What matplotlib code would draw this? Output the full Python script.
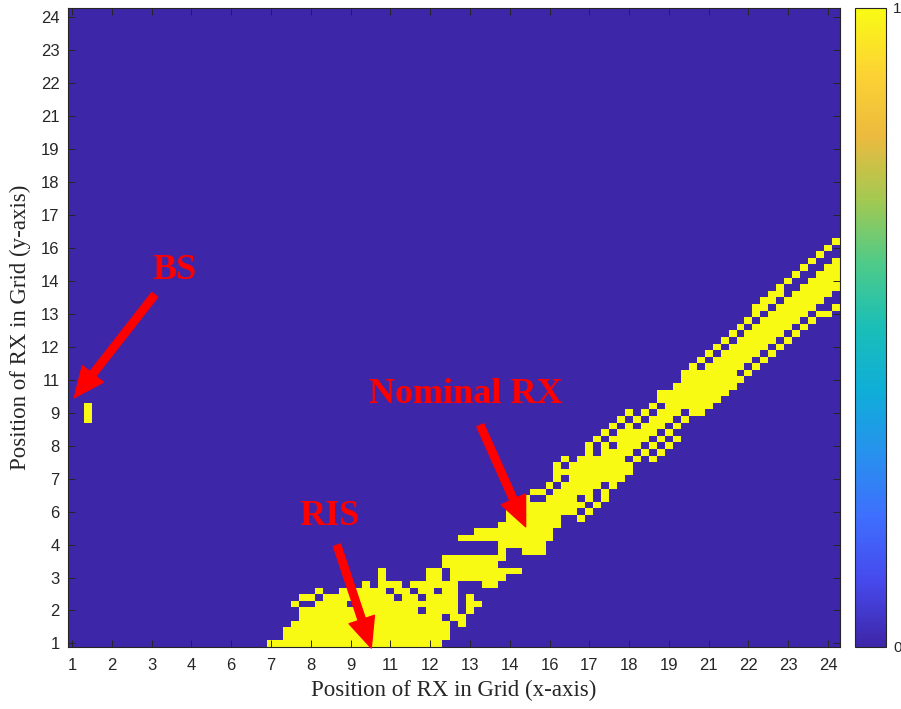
import numpy as np
import matplotlib
matplotlib.use("Agg")
import matplotlib.pyplot as plt
from matplotlib.colors import LinearSegmentedColormap

# ---------------- data ----------------
n_cells = 97
tick_index = [1, 6, 11, 16, 21, 26, 31, 36, 41, 46, 51, 56, 61, 66, 71, 76, 81, 86, 91, 96]
tick_labels = ['1', '2', '3', '4', '6', '7', '8', '9', '11', '12', '13', '14',
               '16', '17', '18', '19', '21', '22', '23', '24']

# yellow (value 1) cells: (row, first column, last column), 1-based grid indices
bs_runs = [(35, 3, 3), (36, 3, 3), (37, 3, 3)]

ris_runs = [
    (1, 26, 47),
    (2, 28, 48),
    (3, 28, 48),
    (4, 29, 48), (4, 50, 50),
    (5, 30, 47), (5, 49, 50),
    (6, 30, 44), (6, 46, 49), (6, 51, 51),
    (7, 29, 29), (7, 32, 35), (7, 37, 49), (7, 51, 52),
    (8, 30, 31), (8, 33, 41), (8, 43, 44), (8, 46, 49), (8, 51, 51),
    (9, 32, 32), (9, 35, 40), (9, 42, 43), (9, 45, 46), (9, 48, 49),
    (10, 38, 38), (10, 40, 42), (10, 44, 49), (10, 53, 54),
    (11, 40, 40), (11, 46, 47), (11, 49, 55),
    (12, 40, 40), (12, 46, 47), (12, 49, 57),
    (13, 48, 54),
    (14, 48, 55),
    (15, 55, 55), (15, 58, 60),
    (16, 55, 60),
]

band_runs = [
    (17, 50, 61),
    (18, 52, 61),
    (19, 55, 62),
    (20, 56, 62), (20, 65, 65),
    (21, 56, 64), (21, 66, 66),
    (22, 56, 56), (22, 58, 65), (22, 67, 67),
    (23, 58, 58), (23, 61, 64), (23, 66, 66), (23, 68, 68),
    (24, 59, 60), (24, 62, 66), (24, 68, 68),
    (25, 61, 61), (25, 63, 67), (25, 69, 69),
    (26, 62, 62), (26, 64, 70),
    (27, 62, 71),
    (28, 62, 62), (28, 64, 71),
    (29, 63, 63), (29, 65, 70), (29, 72, 72), (29, 74, 74),
    (30, 66, 66), (30, 68, 71), (30, 73, 73), (30, 75, 75),
    (31, 66, 66), (31, 68, 68), (31, 70, 72), (31, 74, 74), (31, 76, 76),
    (32, 67, 67), (32, 69, 73), (32, 75, 75), (32, 77, 77),
    (33, 68, 68), (33, 70, 74), (33, 76, 76),
    (34, 69, 69), (34, 71, 71), (34, 73, 75), (34, 77, 77),
    (35, 70, 70), (35, 72, 72), (35, 74, 76), (35, 78, 78),
    (36, 71, 71), (36, 73, 73), (36, 75, 77), (36, 79, 80),
    (37, 74, 74), (37, 76, 81),
    (38, 75, 82),
    (39, 75, 83),
    (40, 77, 84),
    (41, 78, 85),
    (42, 78, 84), (42, 86, 86),
    (43, 79, 79), (43, 81, 85), (43, 87, 87),
    (44, 80, 80), (44, 82, 86), (44, 88, 88),
    (45, 81, 81), (45, 83, 87), (45, 89, 89),
    (46, 82, 82), (46, 84, 88), (46, 90, 90),
    (47, 83, 83), (47, 85, 89), (47, 91, 91),
    (48, 84, 84), (48, 86, 90), (48, 92, 92),
    (49, 85, 85), (49, 87, 91), (49, 93, 93),
    (50, 86, 86), (50, 88, 92), (50, 94, 94),
    (51, 87, 87), (51, 89, 93), (51, 95, 96),
    (52, 87, 88), (52, 90, 94), (52, 97, 97),
    (53, 88, 89), (53, 91, 95),
    (54, 89, 90), (54, 92, 96),
    (55, 90, 90), (55, 93, 97),
    (56, 91, 91), (56, 94, 97),
    (57, 92, 92), (57, 95, 97),
    (58, 93, 93), (58, 96, 97),
    (59, 94, 94), (59, 97, 97),
    (60, 95, 95),
    (61, 96, 96),
    (62, 97, 97),
]

# ---------------- build grid ----------------
grid = np.zeros((n_cells, n_cells))
for r, c0, c1 in bs_runs + ris_runs + band_runs:
    grid[r - 1, c0 - 1:c1] = 1.0

parula = LinearSegmentedColormap.from_list('parula', [
    (0.00, (0.2422, 0.1504, 0.6603)),
    (0.10, (0.2760, 0.2860, 0.9260)),
    (0.20, (0.2450, 0.4300, 0.9960)),
    (0.30, (0.1540, 0.5680, 0.9320)),
    (0.40, (0.0590, 0.6810, 0.8480)),
    (0.50, (0.1000, 0.7480, 0.7180)),
    (0.60, (0.3050, 0.7950, 0.5360)),
    (0.70, (0.6400, 0.7880, 0.3180)),
    (0.80, (0.9250, 0.7300, 0.2450)),
    (0.90, (0.9900, 0.8300, 0.2000)),
    (1.00, (0.9769, 0.9839, 0.0805)),
])

W, H = 901, 709
fig = plt.figure(figsize=(W / 100, H / 100), dpi=100)
ax = fig.add_axes([68 / W, 1 - 646.7 / H, (840 - 68) / W, (646.7 - 7.5) / H])
im = ax.imshow(grid, origin='lower', cmap=parula, vmin=0, vmax=1,
               extent=(0.5, n_cells + 0.5, 0.5, n_cells + 0.5),
               aspect='auto', interpolation='nearest')

tick_font = dict(family='Liberation Sans', size=12)
ax.set_xticks(tick_index)
ax.set_xticklabels(tick_labels, **tick_font)
ax.set_yticks(tick_index)
ax.set_yticklabels(tick_labels, **tick_font)
ax.tick_params(direction='in', length=5, width=0.7, colors='#262626',
               top=True, right=True)
ax.tick_params(axis='x', pad=8)
ax.tick_params(axis='y', pad=6)
for s in ax.spines.values():
    s.set_color('#262626')
    s.set_linewidth(0.8)

label_font = dict(family='Liberation Serif', size=16.5, color='#262626')
ax.set_xlabel('Position of RX in Grid (x-axis)', labelpad=5, **label_font)
ax.set_ylabel('Position of RX in Grid (y-axis)', labelpad=7, **label_font)

# annotations
ann_font = dict(family='Liberation Serif', size=26, weight='bold', color='#ff0000')
arrow = dict(arrowstyle='simple,tail_width=0.45,head_width=1.6,head_length=1.8',
             color='#ff0000', mutation_scale=12, shrinkA=0, shrinkB=0)
ax.text(13.9, 57.6, 'BS', ha='center', va='center', **ann_font)
ax.annotate('', xy=(1.3, 38.3), xytext=(11.4, 53.9), arrowprops=arrow,
            annotation_clip=False)
ax.text(50.5, 38.7, 'Nominal RX', ha='center', va='center', **ann_font)
ax.annotate('', xy=(58.0, 18.7), xytext=(52.3, 34.1), arrowprops=arrow,
            annotation_clip=False)
ax.text(33.3, 20.2, 'RIS', ha='center', va='center', **ann_font)
ax.annotate('', xy=(38.6, 0.3), xytext=(34.3, 15.9), arrowprops=arrow,
            annotation_clip=False)

# colorbar
cax = fig.add_axes([855 / W, 1 - 646.7 / H, 31 / W, (646.7 - 7.5) / H])
cb = fig.colorbar(im, cax=cax)
cb.set_ticks([0, 1])
cb.set_ticklabels(['0', '1'])
cax.tick_params(length=0, labelsize=11, pad=5, colors='#262626')
for lab in cax.get_yticklabels():
    lab.set_family('Liberation Sans')
cb.outline.set_edgecolor('#262626')
cb.outline.set_linewidth(0.8)

fig.savefig('out.png', dpi=100)
